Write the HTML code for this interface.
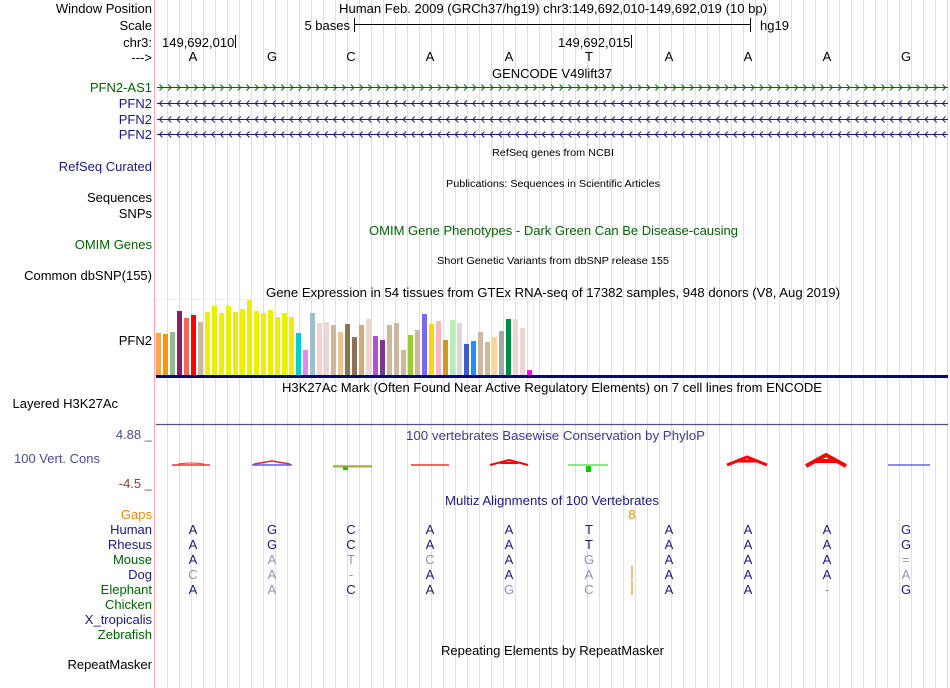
<!DOCTYPE html>
<html><head><meta charset="utf-8"><style>
html,body{margin:0;padding:0;background:#fff;}
svg{display:block;font-family:"Liberation Sans",sans-serif;}
</style></head><body>
<svg width="950" height="688" viewBox="0 0 950 688" xmlns="http://www.w3.org/2000/svg">
<rect width="950" height="688" fill="#fff"/>
<g stroke="#dcdcf4" stroke-width="1">
<line x1="167.5" y1="0" x2="167.5" y2="688"/><line x1="179.5" y1="0" x2="179.5" y2="688"/><line x1="191.5" y1="0" x2="191.5" y2="688"/><line x1="203.5" y1="0" x2="203.5" y2="688"/><line x1="215.5" y1="0" x2="215.5" y2="688"/><line x1="227.5" y1="0" x2="227.5" y2="688"/><line x1="239.5" y1="0" x2="239.5" y2="688"/><line x1="251.5" y1="0" x2="251.5" y2="688"/><line x1="263.5" y1="0" x2="263.5" y2="688"/><line x1="275.5" y1="0" x2="275.5" y2="688"/><line x1="287.5" y1="0" x2="287.5" y2="688"/><line x1="299.5" y1="0" x2="299.5" y2="688"/><line x1="311.5" y1="0" x2="311.5" y2="688"/><line x1="323.5" y1="0" x2="323.5" y2="688"/><line x1="335.5" y1="0" x2="335.5" y2="688"/><line x1="347.5" y1="0" x2="347.5" y2="688"/><line x1="359.5" y1="0" x2="359.5" y2="688"/><line x1="371.5" y1="0" x2="371.5" y2="688"/><line x1="383.5" y1="0" x2="383.5" y2="688"/><line x1="395.5" y1="0" x2="395.5" y2="688"/><line x1="407.5" y1="0" x2="407.5" y2="688"/><line x1="419.5" y1="0" x2="419.5" y2="688"/><line x1="431.5" y1="0" x2="431.5" y2="688"/><line x1="443.5" y1="0" x2="443.5" y2="688"/><line x1="455.5" y1="0" x2="455.5" y2="688"/><line x1="467.5" y1="0" x2="467.5" y2="688"/><line x1="479.5" y1="0" x2="479.5" y2="688"/><line x1="491.5" y1="0" x2="491.5" y2="688"/><line x1="503.5" y1="0" x2="503.5" y2="688"/><line x1="515.5" y1="0" x2="515.5" y2="688"/><line x1="527.5" y1="0" x2="527.5" y2="688"/><line x1="539.5" y1="0" x2="539.5" y2="688"/><line x1="551.5" y1="0" x2="551.5" y2="688"/><line x1="563.5" y1="0" x2="563.5" y2="688"/><line x1="575.5" y1="0" x2="575.5" y2="688"/><line x1="587.5" y1="0" x2="587.5" y2="688"/><line x1="599.5" y1="0" x2="599.5" y2="688"/><line x1="611.5" y1="0" x2="611.5" y2="688"/><line x1="623.5" y1="0" x2="623.5" y2="688"/><line x1="635.5" y1="0" x2="635.5" y2="688"/><line x1="647.5" y1="0" x2="647.5" y2="688"/><line x1="659.5" y1="0" x2="659.5" y2="688"/><line x1="671.5" y1="0" x2="671.5" y2="688"/><line x1="683.5" y1="0" x2="683.5" y2="688"/><line x1="695.5" y1="0" x2="695.5" y2="688"/><line x1="707.5" y1="0" x2="707.5" y2="688"/><line x1="719.5" y1="0" x2="719.5" y2="688"/><line x1="731.5" y1="0" x2="731.5" y2="688"/><line x1="743.5" y1="0" x2="743.5" y2="688"/><line x1="755.5" y1="0" x2="755.5" y2="688"/><line x1="767.5" y1="0" x2="767.5" y2="688"/><line x1="779.5" y1="0" x2="779.5" y2="688"/><line x1="791.5" y1="0" x2="791.5" y2="688"/><line x1="803.5" y1="0" x2="803.5" y2="688"/><line x1="815.5" y1="0" x2="815.5" y2="688"/><line x1="827.5" y1="0" x2="827.5" y2="688"/><line x1="839.5" y1="0" x2="839.5" y2="688"/><line x1="851.5" y1="0" x2="851.5" y2="688"/><line x1="863.5" y1="0" x2="863.5" y2="688"/><line x1="875.5" y1="0" x2="875.5" y2="688"/><line x1="887.5" y1="0" x2="887.5" y2="688"/><line x1="899.5" y1="0" x2="899.5" y2="688"/><line x1="911.5" y1="0" x2="911.5" y2="688"/><line x1="923.5" y1="0" x2="923.5" y2="688"/><line x1="935.5" y1="0" x2="935.5" y2="688"/><line x1="947.5" y1="0" x2="947.5" y2="688"/>
</g>
<line x1="154.5" y1="0" x2="154.5" y2="688" stroke="#ffaaaa" stroke-width="1"/>

<g font-size="13" text-anchor="end" fill="#000">
<text x="152" y="13">Window Position</text>
<text x="152" y="30">Scale</text>
<text x="152" y="47">chr3:</text>
<text x="152" y="62">---&gt;</text>
<text x="152" y="92" fill="#006400">PFN2-AS1</text>
<text x="152" y="108" fill="#1a1a80">PFN2</text>
<text x="152" y="124" fill="#1a1a80">PFN2</text>
<text x="152" y="139" fill="#1a1a80">PFN2</text>
<text x="152" y="171" fill="#1a1a80">RefSeq Curated</text>
<text x="152" y="202">Sequences</text>
<text x="152" y="218">SNPs</text>
<text x="152" y="249" fill="#006400">OMIM Genes</text>
<text x="152" y="280">Common dbSNP(155)</text>
<text x="152" y="345">PFN2</text>
<text x="118" y="408">Layered H3K27Ac</text>
<text x="152" y="439" fill="#4a4a9a">4.88 _</text>
<text x="100" y="463" fill="#4a4a9a">100 Vert. Cons</text>
<text x="152" y="488" fill="#8b3a3a">-4.5 _</text>
<text x="152" y="519" fill="#f08c00">Gaps</text>
<text x="152" y="534" fill="#1a1a80">Human</text>
<text x="152" y="549" fill="#1a1a80">Rhesus</text>
<text x="152" y="564" fill="#006400">Mouse</text>
<text x="152" y="579" fill="#1a1a80">Dog</text>
<text x="152" y="594" fill="#006400">Elephant</text>
<text x="152" y="609" fill="#006400">Chicken</text>
<text x="152" y="624" fill="#1a1a80">X_tropicalis</text>
<text x="152" y="639" fill="#006400">Zebrafish</text>
<text x="152" y="669">RepeatMasker</text>
</g>

<g font-size="13" fill="#000">
<text x="339" y="13" textLength="428" lengthAdjust="spacingAndGlyphs">Human Feb. 2009 (GRCh37/hg19)   chr3:149,692,010-149,692,019 (10 bp)</text>
<text x="350" y="30" text-anchor="end">5 bases</text>
<line x1="354.5" y1="18" x2="354.5" y2="32" stroke="#000"/>
<line x1="354" y1="24.5" x2="750" y2="24.5" stroke="#000"/>
<line x1="750.5" y1="18" x2="750.5" y2="32" stroke="#000"/>
<text x="760" y="30">hg19</text>
<text x="162" y="47">149,692,010</text>
<line x1="235.5" y1="35" x2="235.5" y2="48" stroke="#000"/>
<text x="558" y="47">149,692,015</text>
<line x1="631.5" y1="35" x2="631.5" y2="48" stroke="#000"/>
<g text-anchor="middle">
<text x="193" y="61">A</text><text x="272" y="61">G</text><text x="351" y="61">C</text><text x="430" y="61">A</text><text x="509" y="61">A</text><text x="589" y="61">T</text><text x="669" y="61">A</text><text x="748" y="61">A</text><text x="827" y="61">A</text><text x="906" y="61">G</text>
</g>
<text x="492" y="78">GENCODE V49lift37</text>
</g>

<defs>
<pattern id="r1" x="157" y="84" width="8.7" height="7" patternUnits="userSpaceOnUse">
<path d="M2.5,0.5 L5.5,3.5 L2.5,6.5" fill="none" stroke="#006400" stroke-width="1"/>
</pattern>
<pattern id="l1" x="157" y="100" width="8.7" height="7" patternUnits="userSpaceOnUse">
<path d="M5.5,0.5 L2.5,3.5 L5.5,6.5" fill="none" stroke="#1a1a80" stroke-width="1"/>
</pattern>
<pattern id="l2" x="157" y="116" width="8.7" height="7" patternUnits="userSpaceOnUse">
<path d="M5.5,0.5 L2.5,3.5 L5.5,6.5" fill="none" stroke="#1a1a80" stroke-width="1"/>
</pattern>
<pattern id="l3" x="157" y="131" width="8.7" height="7" patternUnits="userSpaceOnUse">
<path d="M5.5,0.5 L2.5,3.5 L5.5,6.5" fill="none" stroke="#1a1a80" stroke-width="1"/>
</pattern>
</defs>
<rect x="157" y="84" width="791" height="7" fill="url(#r1)"/>
<line x1="157" y1="87.5" x2="948" y2="87.5" stroke="#006400"/>
<rect x="157" y="100" width="791" height="7" fill="url(#l1)"/>
<line x1="157" y1="103.5" x2="948" y2="103.5" stroke="#1a1a80"/>
<rect x="157" y="116" width="791" height="7" fill="url(#l2)"/>
<line x1="157" y1="119.5" x2="948" y2="119.5" stroke="#1a1a80"/>
<rect x="157" y="131" width="791" height="7" fill="url(#l3)"/>
<line x1="157" y1="134.5" x2="948" y2="134.5" stroke="#1a1a80"/>

<g fill="#000">
<text x="492" y="156" font-size="10" textLength="122" lengthAdjust="spacingAndGlyphs">RefSeq genes from NCBI</text>
<text x="446" y="187" font-size="10" textLength="214" lengthAdjust="spacingAndGlyphs">Publications: Sequences in Scientific Articles</text>
<text x="369" y="235" font-size="13" fill="#006400" textLength="369" lengthAdjust="spacingAndGlyphs">OMIM Gene Phenotypes - Dark Green Can Be Disease-causing</text>
<text x="437" y="264" font-size="10" textLength="232" lengthAdjust="spacingAndGlyphs">Short Genetic Variants from dbSNP release 155</text>
<text x="266" y="297" font-size="13" textLength="574" lengthAdjust="spacingAndGlyphs">Gene Expression in 54 tissues from GTEx RNA-seq of 17382 samples, 948 donors (V8, Aug 2019)</text>
<text x="282" y="392" font-size="13" textLength="540" lengthAdjust="spacingAndGlyphs">H3K27Ac Mark (Often Found Near Active Regulatory Elements) on 7 cell lines from ENCODE</text>
<text x="406" y="440" font-size="13" fill="#3a3a90" textLength="299" lengthAdjust="spacingAndGlyphs">100 vertebrates Basewise Conservation by PhyloP</text>
<text x="445" y="505" font-size="13" fill="#1a1a80" textLength="214" lengthAdjust="spacingAndGlyphs">Multiz Alignments of 100 Vertebrates</text>
<text x="441" y="655" font-size="13" textLength="223" lengthAdjust="spacingAndGlyphs">Repeating Elements by RepeatMasker</text>
</g>

<rect x="155.5" y="299.5" width="378" height="77" fill="none" stroke="#ececf4"/>
<g>
<rect x="156" y="333" width="5" height="42" fill="#FFA54F"/>
<rect x="163" y="334" width="5" height="41" fill="#EE9A00"/>
<rect x="170" y="332" width="5" height="43" fill="#8FBC8F"/>
<rect x="177" y="311" width="5" height="64" fill="#8B1C62"/>
<rect x="184" y="318" width="5" height="57" fill="#EE6A50"/>
<rect x="191" y="315" width="5" height="60" fill="#FF0000"/>
<rect x="198" y="322" width="5" height="53" fill="#CDB79E"/>
<rect x="205" y="312" width="5" height="63" fill="#EEEE00"/>
<rect x="212" y="306" width="5" height="69" fill="#EEEE00"/>
<rect x="219" y="313" width="5" height="62" fill="#EEEE00"/>
<rect x="226" y="306" width="5" height="69" fill="#EEEE00"/>
<rect x="233" y="312" width="5" height="63" fill="#EEEE00"/>
<rect x="240" y="309" width="5" height="66" fill="#EEEE00"/>
<rect x="247" y="300" width="5" height="75" fill="#EEEE00"/>
<rect x="254" y="311" width="5" height="64" fill="#EEEE00"/>
<rect x="261" y="313" width="5" height="62" fill="#EEEE00"/>
<rect x="268" y="310" width="5" height="65" fill="#EEEE00"/>
<rect x="275" y="317" width="5" height="58" fill="#EEEE00"/>
<rect x="282" y="313" width="5" height="62" fill="#EEEE00"/>
<rect x="289" y="317" width="5" height="58" fill="#EEEE00"/>
<rect x="296" y="333" width="5" height="42" fill="#00CED1"/>
<rect x="303" y="350" width="5" height="25" fill="#EE82EE"/>
<rect x="310" y="313" width="5" height="62" fill="#9AC0CD"/>
<rect x="317" y="323" width="5" height="52" fill="#EED5D2"/>
<rect x="324" y="322" width="5" height="53" fill="#EED5D2"/>
<rect x="331" y="325" width="5" height="50" fill="#CDB79E"/>
<rect x="338" y="332" width="5" height="43" fill="#EEC591"/>
<rect x="345" y="324" width="5" height="51" fill="#8B7355"/>
<rect x="352" y="337" width="5" height="38" fill="#8B7355"/>
<rect x="359" y="325" width="5" height="50" fill="#CDAA7D"/>
<rect x="366" y="319" width="5" height="56" fill="#EED5D2"/>
<rect x="373" y="336" width="5" height="39" fill="#B452CD"/>
<rect x="380" y="340" width="5" height="35" fill="#7A378B"/>
<rect x="387" y="325" width="5" height="50" fill="#CDB79E"/>
<rect x="394" y="323" width="5" height="52" fill="#CDB79E"/>
<rect x="401" y="350" width="5" height="25" fill="#CDB79E"/>
<rect x="408" y="335" width="5" height="40" fill="#9ACD32"/>
<rect x="415" y="330" width="5" height="45" fill="#CDB79E"/>
<rect x="422" y="314" width="5" height="61" fill="#7B68EE"/>
<rect x="429" y="324" width="5" height="51" fill="#FFD700"/>
<rect x="436" y="321" width="5" height="54" fill="#FFB6C1"/>
<rect x="443" y="340" width="5" height="35" fill="#CD9B1D"/>
<rect x="450" y="320" width="5" height="55" fill="#B4EEB4"/>
<rect x="457" y="323" width="5" height="52" fill="#D9D9D9"/>
<rect x="464" y="344" width="5" height="31" fill="#3A5FCD"/>
<rect x="471" y="341" width="5" height="34" fill="#1E90FF"/>
<rect x="478" y="332" width="5" height="43" fill="#CDB79E"/>
<rect x="485" y="342" width="5" height="33" fill="#CDB79E"/>
<rect x="492" y="337" width="5" height="38" fill="#FFD39B"/>
<rect x="499" y="331" width="5" height="44" fill="#A6A6A6"/>
<rect x="506" y="319" width="5" height="56" fill="#008B45"/>
<rect x="513" y="319" width="5" height="56" fill="#EED5D2"/>
<rect x="520" y="328" width="5" height="47" fill="#EED5D2"/>
<rect x="527" y="370" width="5" height="5" fill="#FF00FF"/>
</g>
<rect x="156" y="375" width="792" height="3" fill="#0a0a6a"/>

<line x1="156" y1="424.5" x2="948" y2="424.5" stroke="#5a4a8a" stroke-width="1.2"/>

<g fill="none" stroke-width="1.5">
<path d="M172,465 L210,465" stroke="#e33"/>
<path d="M178,464 Q191,462 204,464" stroke="#e33" stroke-width="1"/>
<path d="M252,465 L292,465" stroke="#55f"/>
<path d="M254,464 L272,461 L290,464" stroke="#e22"/>
<path d="M333,466 L372,466" stroke="#aa4"/>
<path d="M333,467 L372,467" stroke="#aa4" stroke-width="1"/>
<path d="M411,465 L449,465" stroke="#e33"/>
<path d="M490,465 L509,460 L528,465 M500,463 L518,463" stroke="#f00" stroke-width="2"/>
<path d="M568,465 L608,465" stroke="#6d6"/>
<path d="M727,465 L747,457 L767,465 M737,461 L757,461" stroke="#f00" stroke-width="3"/>
<path d="M806,466 L826,455 L846,466 M816,461 L836,461" stroke="#f00" stroke-width="4"/>
<path d="M888,465 L930,465" stroke="#66d"/>
</g>
<rect x="343" y="467" width="5" height="3" fill="#0c0"/>
<rect x="586" y="466" width="5" height="6" fill="#0c0"/>

<g font-size="13" text-anchor="middle">
<text x="632" y="519" fill="#f08c00">8</text>
<g fill="#1a1a80">
<text x="193" y="534">A</text><text x="272" y="534">G</text><text x="351" y="534">C</text><text x="430" y="534">A</text><text x="509" y="534">A</text><text x="589" y="534">T</text><text x="669" y="534">A</text><text x="748" y="534">A</text><text x="827" y="534">A</text><text x="906" y="534">G</text>
<text x="193" y="549">A</text><text x="272" y="549">G</text><text x="351" y="549">C</text><text x="430" y="549">A</text><text x="509" y="549">A</text><text x="589" y="549">T</text><text x="669" y="549">A</text><text x="748" y="549">A</text><text x="827" y="549">A</text><text x="906" y="549">G</text>
<text x="193" y="564">A</text><text x="509" y="564">A</text><text x="669" y="564">A</text><text x="748" y="564">A</text><text x="827" y="564">A</text>
<text x="430" y="579">A</text><text x="509" y="579">A</text><text x="669" y="579">A</text><text x="748" y="579">A</text><text x="827" y="579">A</text>
<text x="193" y="594">A</text><text x="351" y="594">C</text><text x="430" y="594">A</text><text x="669" y="594">A</text><text x="748" y="594">A</text><text x="906" y="594">G</text>
</g>
<g fill="#9090b8">
<text x="272" y="564">A</text><text x="351" y="564">T</text><text x="430" y="564">C</text><text x="589" y="564">G</text><text x="906" y="564">=</text>
<text x="193" y="579">C</text><text x="272" y="579">A</text><text x="351" y="579">-</text><text x="589" y="579">A</text><text x="906" y="579">A</text>
<text x="272" y="594">A</text><text x="509" y="594">G</text><text x="589" y="594">C</text><text x="827" y="594">-</text>
</g>
</g>
<line x1="632" y1="566" x2="632" y2="580" stroke="#e08000"/>
<line x1="632" y1="581" x2="632" y2="595" stroke="#e08000"/>
</svg>
</body></html>
